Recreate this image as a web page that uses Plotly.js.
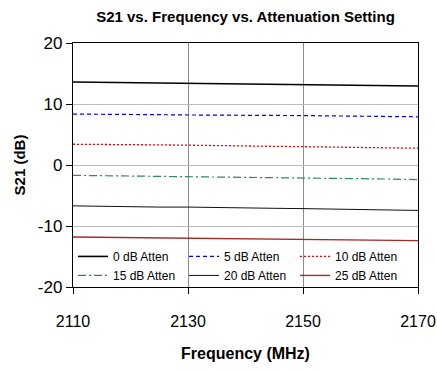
<!DOCTYPE html>
<html><head><meta charset="utf-8">
<script src="https://cdn.plot.ly/plotly-3.0.1.min.js"></script>
<style>body{margin:0;padding:0;background:#fff}#c{width:437px;height:371px}</style>
</head><body><div id="c"></div>
<script>
const freq = [2110,2115,2120,2125,2130,2135,2140,2145,2150,2155,2160,2165,2170];
const atten0  = [13.6,13.55,13.4,13.4,13.3,13.3,13.3,13.2,13.2,13.1,13.05,13.0,12.95];
const atten5  = [8.35,8.35,8.3,8.25,8.2,8.2,8.15,8.1,8.1,8.05,8.0,7.95,7.9];
const atten10 = [3.4,3.4,3.35,3.3,3.25,3.2,3.1,3.05,3.0,2.95,2.9,2.8,2.75];
const atten15 = [-1.7,-1.75,-1.8,-1.8,-1.85,-1.9,-2.0,-2.1,-2.15,-2.2,-2.25,-2.3,-2.4];
const atten20 = [-6.7,-6.8,-6.85,-6.9,-6.9,-7.0,-7.05,-7.1,-7.15,-7.2,-7.3,-7.35,-7.45];
const atten25 = [-11.8,-11.85,-11.85,-11.9,-12.0,-12.05,-12.1,-12.15,-12.2,-12.25,-12.3,-12.35,-12.4];
const names = ['0 dB Atten','5 dB Atten','10 dB Atten','15 dB Atten','20 dB Atten','25 dB Atten'];
const xTicks = [2110,2130,2150,2170];
const yTicks = [-20,-10,0,10,20];
const yTickText = ['-20','-10','0','10','20'];

const FONT = '"Liberation Sans Narrow", "Arial Narrow", "Liberation Sans", Arial, sans-serif';
const styles = [
  {color:'#000000', width:1.6, dash:'solid'},
  {color:'#0000ff', width:1.2, dash:'4px,3px'},
  {color:'#ff0000', width:1.3, dash:'2px,2px'},
  {color:'#2e8b57', width:1.2, dash:'8px,3px,2px,3px'},
  {color:'#111111', width:1.0, dash:'solid'},
  {color:'#a52a2a', width:1.4, dash:'solid'}
];
const series = [atten0, atten5, atten10, atten15, atten20, atten25];
const data = series.map((ys,i)=>({
  x: freq, y: ys, name: names[i], type:'scatter', mode:'lines',
  line: styles[i]
}));

const layout = {
  width:437, height:371,
  margin:{l:73, r:19, t:43, b:84},
  paper_bgcolor:'#fff', plot_bgcolor:'#fff',
  font:{family:FONT, color:'#000'},
  title:{text:'<b>S21 vs. Frequency vs. Attenuation Setting</b>', font:{size:15, family:FONT}, xref:'paper', x:0.5, xanchor:'center', y:0.955, yanchor:'middle'},
  showlegend:true,
  legend:{orientation:'h', x:0, xanchor:'left', y:-0.012, yanchor:'bottom',
    font:{size:12, family:FONT}, bgcolor:'rgba(255,255,255,0)',
    entrywidth:66, entrywidthmode:'pixels', tracegroupgap:0, traceorder:'normal'},
  xaxis:{range:[2110,2170], tickvals:xTicks, ticktext:xTicks.map(String),
    showgrid:true, gridcolor:'#8c8c8c', gridwidth:1, ticklabeloverflow:'allow',
    ticks:'outside', ticklen:6, tickcolor:'#000', showline:true, linecolor:'#000', linewidth:1.2, mirror:true,
    tickfont:{size:16, family:FONT}, ticklabelstandoff:14, zeroline:false,
    title:{text:'<b>Frequency (MHz)</b>', font:{size:16, family:FONT}, standoff:18}},
  yaxis:{range:[-20,20], tickvals:yTicks, ticktext:yTickText,
    showgrid:true, gridcolor:'#bdbdbd', gridwidth:1,
    ticks:'outside', ticklen:6, tickcolor:'#000', showline:true, linecolor:'#000', linewidth:1.2, mirror:true,
    tickfont:{size:17, family:FONT}, zeroline:false,
    title:{text:'<b>S21 (dB)</b>', font:{size:15, family:FONT}, standoff:8}}
};
Plotly.newPlot('c', data, layout, {displayModeBar:false, staticPlot:true});
</script></body></html>
